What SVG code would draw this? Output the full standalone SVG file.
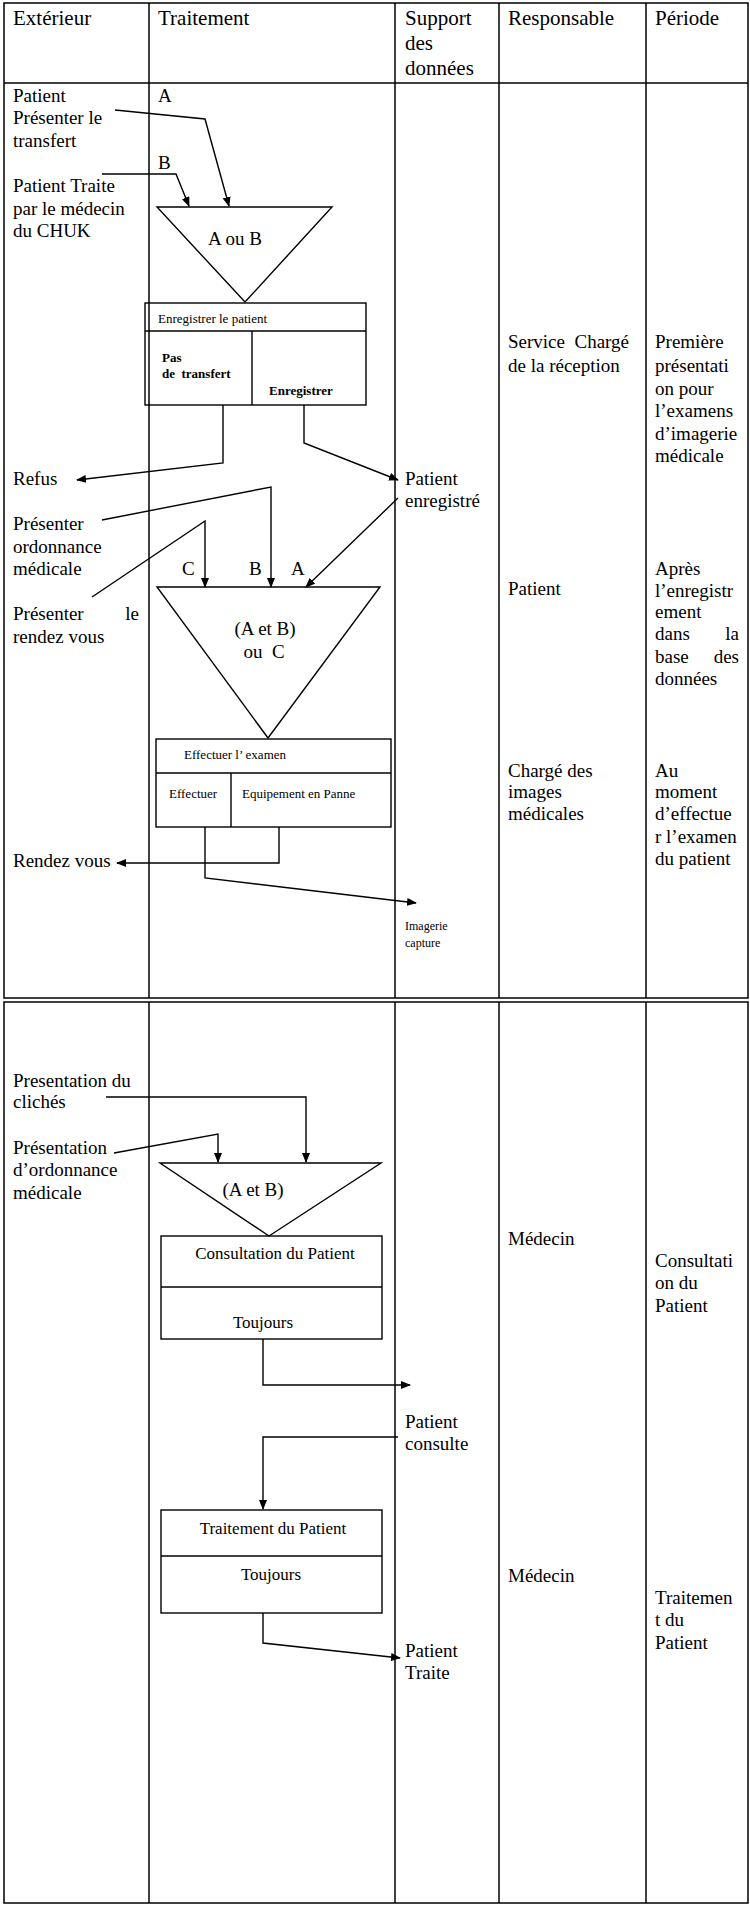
<svg xmlns="http://www.w3.org/2000/svg" width="750" height="1908" viewBox="0 0 750 1908">
<defs>
<marker id="ah" markerWidth="10" markerHeight="8" refX="9" refY="4" orient="auto" markerUnits="userSpaceOnUse"><path d="M0,0 L10,4 L0,8 Z" fill="#000"/></marker>
<style>
text{font-family:"Liberation Serif","Times New Roman",serif;fill:#000;font-size:19px}
.h{font-size:21px}
.s{font-size:13px}
.b{font-size:13px;font-weight:bold}
.xs{font-size:12px}
.m{font-size:17px}
.g{fill:none;stroke:#000;stroke-width:1.5}
.c{fill:none;stroke:#000;stroke-width:1.4}
.a{marker-end:url(#ah)}
</style>
</defs>
<rect width="750" height="1908" fill="#fff"/>
<g id="grid" class="g">
<rect x="4" y="3" width="744" height="995"/>
<line x1="4" y1="83" x2="748" y2="83"/>
<line x1="149" y1="3" x2="149" y2="998"/><line x1="395" y1="3" x2="395" y2="998"/>
<line x1="499" y1="3" x2="499" y2="998"/><line x1="646" y1="3" x2="646" y2="998"/>
<rect x="4" y="1002" width="744" height="901"/>
<line x1="149" y1="1002" x2="149" y2="1903"/><line x1="395" y1="1002" x2="395" y2="1903"/>
<line x1="499" y1="1002" x2="499" y2="1903"/><line x1="646" y1="1002" x2="646" y2="1903"/>
</g>
<g id="headers">
<text class="h" x="13" y="25">Extérieur</text>
<text class="h" x="158" y="25">Traitement</text>
<text class="h" x="405" y="25">Support</text><text class="h" x="405" y="50">des</text><text class="h" x="405" y="75">données</text>
<text class="h" x="508" y="25">Responsable</text>
<text class="h" x="655" y="25">Période</text>
</g>
<g id="ext-texts">
<text x="13" y="102">Patient</text><text x="13" y="124">Présenter le</text><text x="13" y="147">transfert</text>
<text x="13" y="192">Patient Traite</text><text x="13" y="215">par le médecin</text><text x="13" y="237">du CHUK</text>
<text x="13" y="485">Refus</text>
<text x="13" y="530">Présenter</text><text x="13" y="553">ordonnance</text><text x="13" y="575">médicale</text>
<text x="13" y="620">Présenter</text><text x="139" y="620" text-anchor="end">le</text><text x="13" y="643">rendez vous</text>
<text x="13" y="867">Rendez vous</text>
<text x="13" y="1087">Presentation du</text><text x="13" y="1108">clichés</text>
<text x="13" y="1154">Présentation</text><text x="13" y="1176">d’ordonnance</text><text x="13" y="1199">médicale</text>
</g>
<g id="labels">
<text x="158" y="102">A</text><text x="158" y="169">B</text>
<text x="182" y="575">C</text><text x="249" y="575">B</text><text x="291" y="575">A</text>
</g>
<g id="merge1"><polygon class="c" points="157,207 332,207 245,302"/><text x="235" y="245" text-anchor="middle">A ou B</text></g>
<g id="box1">
<rect class="c" x="145" y="303" width="221" height="102"/><line class="c" x1="145" y1="331" x2="366" y2="331"/><line class="c" x1="252" y1="331" x2="252" y2="405"/>
<text class="s" x="158" y="323">Enregistrer le patient</text>
<text class="b" x="162" y="362">Pas</text><text class="b" x="162" y="378" xml:space="preserve">de  transfert</text>
<text class="b" x="269" y="395">Enregistrer</text>
</g>
<g id="merge2"><polygon class="c" points="157,587 380,587 268,738"/><text x="265" y="635" text-anchor="middle">(A et B)</text><text x="264" y="658" text-anchor="middle" xml:space="preserve">ou  C</text></g>
<g id="box2">
<rect class="c" x="156" y="739" width="235" height="88"/><line class="c" x1="156" y1="773" x2="391" y2="773"/><line class="c" x1="231" y1="773" x2="231" y2="827"/>
<text class="s" x="184" y="759">Effectuer l’ examen</text>
<text class="s" x="169" y="798">Effectuer</text><text class="s" x="242" y="798">Equipement en Panne</text>
</g>
<g id="merge3"><polygon class="c" points="160,1163 381,1163 269,1236"/><text x="253" y="1196" text-anchor="middle">(A et B)</text></g>
<g id="box3">
<rect class="c" x="161" y="1236" width="221" height="103"/><line class="c" x1="161" y1="1287" x2="382" y2="1287"/>
<text class="m" x="275" y="1259" text-anchor="middle">Consultation du Patient</text><text class="m" x="263" y="1328" text-anchor="middle">Toujours</text>
</g>
<g id="box4">
<rect class="c" x="161" y="1510" width="221" height="103"/><line class="c" x1="161" y1="1556" x2="382" y2="1556"/>
<text class="m" x="273" y="1534" text-anchor="middle">Traitement du Patient</text><text class="m" x="271" y="1580" text-anchor="middle">Toujours</text>
</g>
<g id="support">
<text x="405" y="485">Patient</text><text x="405" y="507">enregistré</text>
<text class="xs" x="405" y="930">Imagerie</text><text class="xs" x="405" y="947">capture</text>
<text x="405" y="1428">Patient</text><text x="405" y="1450">consulte</text>
<text x="405" y="1657">Patient</text><text x="405" y="1679">Traite</text>
</g>
<g id="responsable">
<text x="508" y="348" xml:space="preserve">Service  Chargé</text><text x="508" y="372">de la réception</text>
<text x="508" y="595">Patient</text>
<text x="508" y="777">Chargé des</text><text x="508" y="798">images</text><text x="508" y="820">médicales</text>
<text x="508" y="1245">Médecin</text><text x="508" y="1582">Médecin</text>
</g>
<g id="periode">
<text x="655" y="348">Première</text><text x="655" y="372">présentati</text><text x="655" y="395">on pour</text><text x="655" y="417">l’examens</text><text x="655" y="440">d’imagerie</text><text x="655" y="462">médicale</text>
<text x="655" y="575">Après</text><text x="655" y="597">l’enregistr</text><text x="655" y="618">ement</text>
<text x="655" y="640">dans</text><text x="739" y="640" text-anchor="end">la</text>
<text x="655" y="663">base</text><text x="739" y="663" text-anchor="end">des</text>
<text x="655" y="685">données</text>
<text x="655" y="777">Au</text><text x="655" y="798">moment</text><text x="655" y="820">d’effectue</text><text x="655" y="843">r l’examen</text><text x="655" y="865">du patient</text>
<text x="655" y="1267">Consultati</text><text x="655" y="1289">on du</text><text x="655" y="1312">Patient</text>
<text x="655" y="1604">Traitemen</text><text x="655" y="1626">t du</text><text x="655" y="1649">Patient</text>
</g>
<g id="connectors" class="c">
<polyline class="a" points="115,110 205,119 229,206"/>
<polyline class="a" points="102,174 176,174 189,206"/>
<polyline class="a" points="223,405 223,463 77,480"/>
<polyline class="a" points="304,405 304,443 398,480"/>
<polyline class="a" points="102,520 271,487 271,587"/>
<polyline class="a" points="92,597 205,521 205,587"/>
<polyline class="a" points="398,498 306,587"/>
<polyline class="a" points="279,827 279,863 117,863"/>
<polyline class="a" points="205,827 205,878 416,903"/>
<polyline class="a" points="106,1097 306,1097 306,1162"/>
<polyline class="a" points="114,1153 218,1134 218,1162"/>
<polyline class="a" points="263,1339 263,1385 410,1385"/>
<polyline class="a" points="398,1437 263,1437 263,1509"/>
<polyline class="a" points="263,1613 263,1643 400,1658"/>
</g>
</svg>
